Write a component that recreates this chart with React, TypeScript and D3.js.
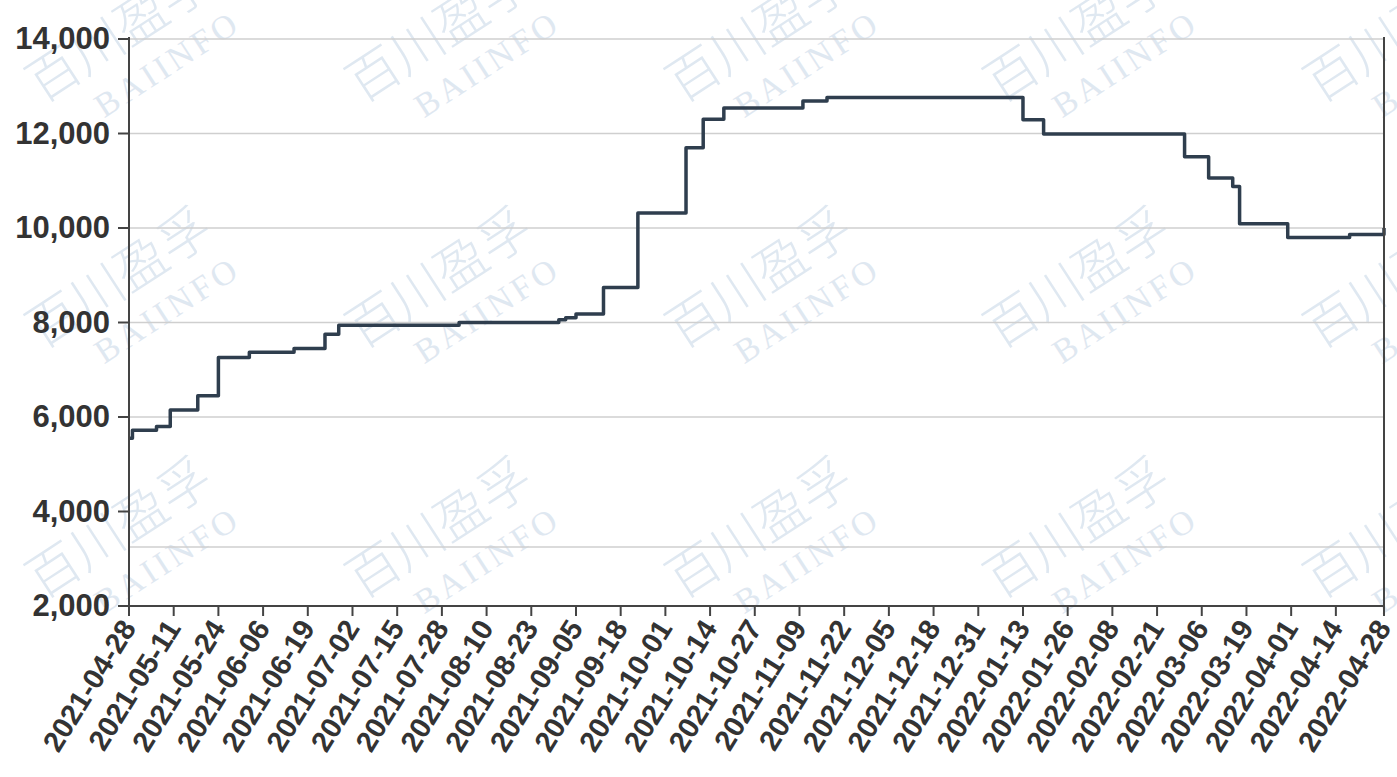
import React from "react";
import * as d3 from "d3";

const changeDates = [
  "2021-04-28", "2021-04-29", "2021-05-06", "2021-05-10", "2021-05-18", "2021-05-24",
  "2021-06-02", "2021-06-15", "2021-06-24", "2021-06-28", "2021-08-02", "2021-08-31",
  "2021-09-02", "2021-09-05", "2021-09-13", "2021-09-23", "2021-10-07", "2021-10-12",
  "2021-10-18", "2021-11-10", "2021-11-17", "2022-01-13", "2022-01-19", "2022-03-01",
  "2022-03-08", "2022-03-15", "2022-03-17", "2022-03-31", "2022-04-18", "2022-04-28",
];
const prices = [
  5550, 5720, 5800, 6150, 6450, 7260,
  7370, 7450, 7750, 7940, 8000, 8060,
  8100, 8180, 8740, 10320, 11700, 12300,
  12540, 12690, 12760, 12290, 11990, 11510,
  11060, 10880, 10090, 9800, 9860, 10000,
];
const xTickLabels = [
  "2021-04-28", "2021-05-11", "2021-05-24", "2021-06-06", "2021-06-19", "2021-07-02",
  "2021-07-15", "2021-07-28", "2021-08-10", "2021-08-23", "2021-09-05", "2021-09-18",
  "2021-10-01", "2021-10-14", "2021-10-27", "2021-11-09", "2021-11-22", "2021-12-05",
  "2021-12-18", "2021-12-31", "2022-01-13", "2022-01-26", "2022-02-08", "2022-02-21",
  "2022-03-06", "2022-03-19", "2022-04-01", "2022-04-14", "2022-04-28",
];
const yTickValues = [2000, 4000, 6000, 8000, 10000, 12000, 14000];
const gridValues = [14000, 12000, 10000, 8000, 6000, 3250];
const watermarkCols = [42, 362, 682, 1000, 1320];
const watermarkRows = [104, 350, 600];

const parse = d3.utcParse("%Y-%m-%d");

export default function App() {
  const left = 129, right = 1384, top = 39, bottom = 606;
  const x = d3.scaleUtc().domain([parse("2021-04-28")!, parse("2022-04-28")!]).range([left, right]);
  const y = d3.scaleLinear().domain([2000, 14000]).range([bottom, top]);
  const data = changeDates.map((d, i) => ({ date: parse(d)!, value: prices[i] }));
  const line = d3.line<{ date: Date; value: number }>()
    .x((d) => x(d.date))
    .y((d) => y(d.value))
    .curve(d3.curveStepAfter);
  const fmt = d3.format(",");
  const font = "Arial, 'Liberation Sans', sans-serif";

  return (
    <div style={{ position: "absolute", left: 0, top: 0 }}>
      <svg width={1397} height={777} style={{ display: "block", background: "#fff" }}>
        {/* watermarks */}
        <g fill="#dfe8f1">
          {watermarkRows.map((wy, r) =>
            watermarkCols.map((wx, c) => (
              <g key={`${r}-${c}`} transform={`translate(${wx},${wy}) rotate(-33)`}>
                <text x={0} y={0} fontSize={52} fontFamily="'Noto Sans CJK SC'" fontWeight={300}>
                  百川盈孚
                </text>
                <text x={44} y={46} fontSize={34} fontFamily="'Liberation Serif', serif" letterSpacing={4}>
                  BAIINFO
                </text>
              </g>
            ))
          )}
        </g>
        {/* grid */}
        <g stroke="#cfcfcf" strokeWidth={1.5}>
          {gridValues.map((v) => (
            <line key={v} x1={left} x2={right} y1={y(v)} y2={y(v)} />
          ))}
        </g>
        {/* series */}
        <path d={line(data) || ""} fill="none" stroke="#2f3e4e" strokeWidth={3.5} strokeLinejoin="round" />
        {/* axes */}
        <g stroke="#444" strokeWidth={2}>
          <line x1={left} x2={left} y1={top - 2} y2={bottom} />
          <line x1={right} x2={right} y1={top - 2} y2={bottom} />
          <line x1={left - 11} x2={right} y1={bottom} y2={bottom} />
          {yTickValues.map((v) => (
            <line key={v} x1={left - 11} x2={left} y1={y(v)} y2={y(v)} />
          ))}
          {xTickLabels.map((d) => (
            <line key={d} x1={x(parse(d)!)} x2={x(parse(d)!)} y1={bottom} y2={bottom + 10} />
          ))}
        </g>
        {/* y labels */}
        <g fill="#333" fontFamily={font} fontWeight="bold" fontSize={31} textAnchor="end">
          {yTickValues.map((v) => (
            <text key={v} x={110} y={y(v) + 10}>
              {fmt(v)}
            </text>
          ))}
        </g>
        {/* x labels */}
        <g fill="#333" fontFamily={font} fontWeight="bold" fontSize={29} textAnchor="end">
          {xTickLabels.map((d) => {
            const px = x(parse(d)!) + 8;
            const py = bottom + 22;
            return (
              <text key={d} transform={`translate(${px},${py}) rotate(-58)`}>
                {d}
              </text>
            );
          })}
        </g>
      </svg>
    </div>
  );
}
